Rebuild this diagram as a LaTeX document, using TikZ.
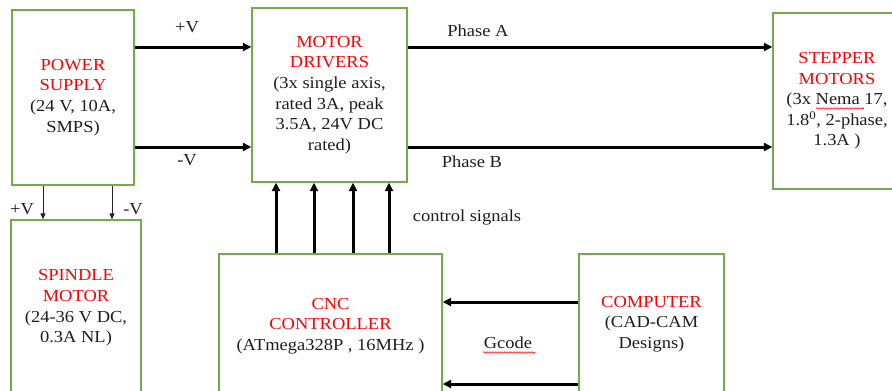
\documentclass[tikz,border=0pt]{standalone}
\usepackage{fontspec}
\setmainfont{Liberation Serif}[FakeStretch=1.1]
\usetikzlibrary{arrows.meta,decorations.pathmorphing}
\definecolor{bgreen}{RGB}{112,173,71}
\definecolor{tred}{RGB}{255,0,0}
\definecolor{tdark}{RGB}{30,30,30}
\begin{document}
\begin{tikzpicture}[x=1pt,y=-1pt,
 blk/.style={draw=bgreen, line width=1.2pt, inner sep=0pt, align=center, text=tdark, font=\fontsize{16.8}{20.6}\selectfont},
 lbl/.style={inner sep=0pt, text=tdark, font=\fontsize{16.8}{20.6}\selectfont},
 bigarrow/.style={draw=black, line width=3pt, -{Triangle[length=8.5pt,width=8pt]}},
 thinarrow/.style={draw=black!85, line width=1pt, -{Triangle[length=6pt,width=5pt]}},
 squig/.style={draw=tred, line width=0.6pt, decorate, decoration={snake, amplitude=0.8pt, segment length=3pt}}
]
\useasboundingbox (0,0) rectangle (892,391);
\clip (0,0) rectangle (892,391);

% blocks
\node[blk, minimum width=122pt, minimum height=175pt] (ps) at (73,97.5)
  {\textcolor{tred}{POWER}\\\textcolor{tred}{SUPPLY}\\(24 V, 10A,\\SMPS)};
\node[blk, minimum width=155pt, minimum height=174pt] (md) at (329.5,95)
  {\textcolor{tred}{MOTOR}\\\textcolor{tred}{DRIVERS}\\(3x single axis,\\rated 3A, peak\\3.5A, 24V DC\\rated)};
\node[blk, minimum width=128pt, minimum height=176pt] (sm) at (837,101)
  {\textcolor{tred}{STEPPER}\\\textcolor{tred}{MOTORS}\\(3x Nema 17,\\1.8\textsuperscript{0}, 2-phase,\\1.3A )};
\node[blk, minimum width=130pt, minimum height=176pt] (sp) at (76,308)
  {\textcolor{tred}{SPINDLE}\\\textcolor{tred}{MOTOR}\\(24-36 V DC,\\0.3A NL)};
\node[blk, minimum width=223pt, minimum height=144pt] (cnc) at (330.5,326)
  {\textcolor{tred}{CNC}\\\textcolor{tred}{CONTROLLER}\\(ATmega328P , 16MHz )};
\node[blk, minimum width=145pt, minimum height=140pt] (pc) at (651.5,324)
  {\textcolor{tred}{COMPUTER}\\(CAD-CAM\\Designs)};

% helper coordinates
\coordinate (yP) at (0,47);
\coordinate (yM) at (0,147);
\coordinate (xS1) at (43,0);
\coordinate (xS2) at (112,0);
\coordinate (xC1) at (276,0);
\coordinate (xC2) at (314,0);
\coordinate (xC3) at (353,0);
\coordinate (xC4) at (389,0);
\coordinate (yG1) at (0,302);
\coordinate (yG2) at (0,384);

% connectors
\draw[bigarrow] (ps.east |- yP) -- (md.west |- yP);
\draw[bigarrow] (ps.east |- yM) -- (md.west |- yM);
\draw[bigarrow] (md.east |- yP) -- (sm.west |- yP);
\draw[bigarrow] (md.east |- yM) -- (sm.west |- yM);
\draw[thinarrow] (ps.south -| xS1) -- (sp.north -| xS1);
\draw[thinarrow] (ps.south -| xS2) -- (sp.north -| xS2);
\draw[bigarrow] (cnc.north -| xC1) -- (md.south -| xC1);
\draw[bigarrow] (cnc.north -| xC2) -- (md.south -| xC2);
\draw[bigarrow] (cnc.north -| xC3) -- (md.south -| xC3);
\draw[bigarrow] (cnc.north -| xC4) -- (md.south -| xC4);
\draw[bigarrow] (pc.west |- yG1) -- (cnc.east |- yG1);
\draw[bigarrow] (pc.west |- yG2) -- (cnc.east |- yG2);

% labels
\node[lbl] (lpv) at (187,27) {+V};
\node[lbl] (lmv) at (187,160) {-V};
\node[lbl] (lpa) at (478,31) {Phase A};
\node[lbl] (lpb) at (472,162) {Phase B};
\node[lbl] (lcs) at (467,217) {control signals};
\node[lbl] (lgc) at (508,343) {Gcode};
\node[lbl] (lsp) at (22,209) {+V};
\node[lbl] (lsm) at (133,209) {-V};

% spell-check squiggles
\draw[squig] (816,108.5) -- (864,108.5);
\draw[squig] (483,352.5) -- (535,352.5);
\end{tikzpicture}
\end{document}
